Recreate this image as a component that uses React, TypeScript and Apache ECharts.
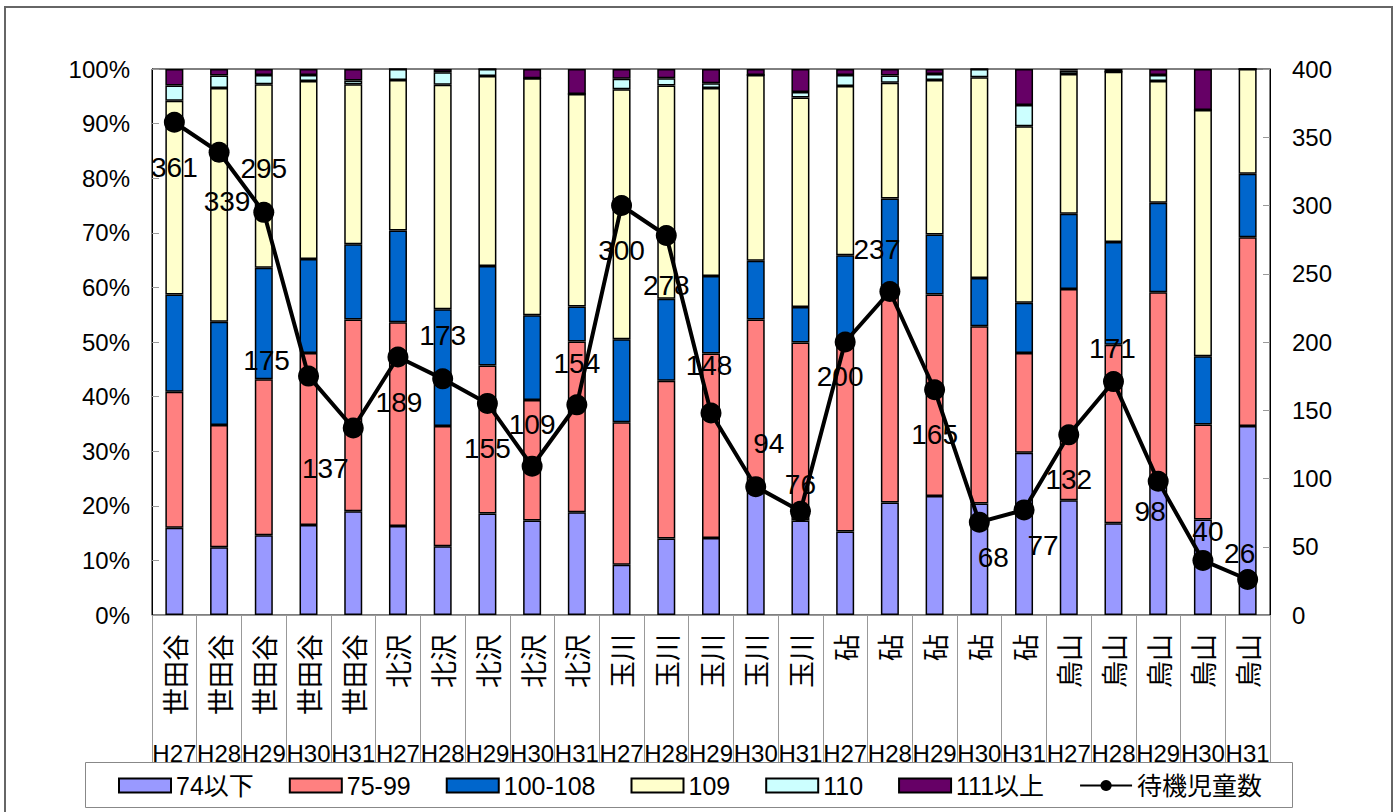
import React, { useEffect, useRef } from "react";
import * as echarts from "echarts";

const regions = [
  "世田谷", "世田谷", "世田谷", "世田谷", "世田谷",
  "北沢", "北沢", "北沢", "北沢", "北沢",
  "玉川", "玉川", "玉川", "玉川", "玉川",
  "砧", "砧", "砧", "砧", "砧",
  "烏山", "烏山", "烏山", "烏山", "烏山",
];
const years = [
  "H27", "H28", "H29", "H30", "H31",
  "H27", "H28", "H29", "H30", "H31",
  "H27", "H28", "H29", "H30", "H31",
  "H27", "H28", "H29", "H30", "H31",
  "H27", "H28", "H29", "H30", "H31",
];

const seriesNames = ["74以下", "75-99", "100-108", "109", "110", "111以上"];
const lineName = "待機児童数";

// percentage shares per category
const s74 = [16.0, 12.4, 14.6, 16.5, 19.0, 16.3, 12.6, 18.6, 17.3, 18.8, 9.2, 14.0, 14.1, 23.3, 17.3, 15.3, 20.6, 21.8, 20.4, 29.7, 21.0, 16.8, 24.3, 17.5, 34.6];
const s75 = [24.9, 22.4, 28.6, 31.5, 35.1, 37.3, 22.0, 27.1, 22.1, 31.3, 26.1, 28.9, 33.8, 30.8, 32.6, 34.8, 39.6, 36.9, 32.5, 18.3, 38.7, 32.7, 34.8, 17.4, 34.6];
const s100 = [17.8, 18.9, 20.4, 17.2, 13.8, 16.8, 21.4, 18.2, 15.5, 6.4, 15.2, 15.0, 14.2, 10.8, 6.5, 15.8, 16.1, 11.0, 8.8, 9.2, 13.8, 18.8, 16.4, 12.5, 11.6];
const s109 = [35.5, 42.8, 33.6, 32.6, 29.3, 27.6, 41.1, 34.8, 43.4, 38.9, 45.8, 39.1, 34.4, 34.0, 38.4, 31.0, 21.2, 28.3, 36.8, 32.3, 25.6, 31.2, 22.3, 45.1, 19.2];
const s110 = [2.8, 2.3, 1.7, 1.1, 0.7, 2.0, 2.3, 1.3, 0, 0, 1.9, 1.3, 0.9, 0, 1.0, 2.0, 1.3, 1.1, 1.5, 3.9, 0.6, 0, 1.1, 0, 0];
const s111 = [3.0, 1.2, 1.1, 1.1, 2.1, 0, 0.6, 0, 1.7, 4.6, 1.8, 1.7, 2.6, 1.1, 4.2, 1.1, 1.2, 0.9, 0, 6.6, 0.3, 0.5, 1.1, 7.5, 0];

const waiting = [361, 339, 295, 175, 137, 189, 173, 155, 109, 154, 300, 278, 148, 94, 76, 200, 237, 165, 68, 77, 132, 171, 98, 40, 26];

const leftTicks = { min: 0, max: 100, interval: 10 };
const rightTicks = { min: 0, max: 400, interval: 50 };

// label offsets for the line's data labels (dx, dy from point)
const labelOffsets: [number, number][] = [
  [0, 45], [8, 49], [0, -44], [-42, -16], [-28, 41],
  [1, 45], [0, -43], [0, 45], [0, -42], [0, -41],
  [0, 45], [0, 50], [-2, -47], [13, -43], [0, -27],
  [-5, 34], [-13, -42], [0, 45], [14, 35], [19, 36],
  [0, 45], [-1, -33], [-8, 30], [5, -29], [-8, -26],
];

const colors = ["#9999FF", "#FF8080", "#0066CC", "#FFFFCC", "#CCFFFF", "#660066"];
const FONT = "'Liberation Sans', Arial, 'Noto Sans CJK JP', sans-serif";
const CJK = "'Noto Sans CJK JP', sans-serif";

export default function App() {
  const ref = useRef<HTMLDivElement>(null);
  useEffect(() => {
    document.body.style.margin = "0";
    if (!ref.current) return;
    const chart = echarts.init(ref.current, null, { renderer: "svg" });
    const barData = [s74, s75, s100, s109, s110, s111];
    const bars = barData.map((d, i) => ({
      name: seriesNames[i],
      type: "bar",
      stack: "total",
      xAxisIndex: 0,
      yAxisIndex: 0,
      barWidth: 18,
      data: d,
      itemStyle: { color: colors[i], borderColor: "#000", borderWidth: 1.5 },
      z: 2,
    }));
    const option: any = {
      animation: false,
      textStyle: { fontFamily: FONT },
      graphic: [
        {
          type: "rect",
          shape: { x: 5, y: 7, width: 1387, height: 812 },
          style: { fill: "none", stroke: "#666", lineWidth: 2 },
          z: -10,
          silent: true,
        },
        {
          type: "rect",
          shape: { x: 85.5, y: 762.5, width: 1207, height: 45 },
          style: { fill: "#fff", stroke: "#888", lineWidth: 1 },
          z: -5,
          silent: true,
        },
      ],
      grid: {
        left: 152,
        right: 129,
        top: 69,
        bottom: 197,
        show: true,
        borderColor: "#000",
        borderWidth: 1,
        backgroundColor: "transparent",
      },
      legend: {
        left: 118,
        top: 773,
        padding: 0,
        itemWidth: 52,
        itemHeight: 14,
        itemGap: 35,
        textStyle: { fontSize: 25, color: "#000", fontFamily: FONT },
        data: [
          ...seriesNames.map((n) => ({ name: n, icon: "rect" })),
          { name: lineName },
        ],
      },
      xAxis: [
        {
          type: "category",
          data: regions,
          position: "bottom",
          axisLine: { lineStyle: { color: "#999", width: 1 } },
          axisTick: { show: true, length: 147, lineStyle: { color: "#999" } },
          axisLabel: {
            interval: 0,
            rotate: 90,
            margin: 19,
            fontSize: 27,
            color: "#000",
            fontFamily: CJK,
          },
        },
        {
          type: "category",
          data: years,
          position: "bottom",
          axisLine: { show: false },
          axisTick: { show: false },
          axisLabel: {
            interval: 0,
            margin: 126,
            fontSize: 24,
            color: "#000",
            fontFamily: FONT,
          },
        },
      ],
      yAxis: [
        {
          type: "value",
          min: leftTicks.min,
          max: leftTicks.max,
          interval: leftTicks.interval,
          position: "left",
          axisLine: { show: true, lineStyle: { color: "#000" } },
          axisTick: { show: true, inside: true, length: 7, lineStyle: { color: "#999" } },
          splitLine: { show: false },
          axisLabel: {
            formatter: "{value}%",
            fontSize: 24,
            color: "#000",
            margin: 22,
            fontFamily: FONT,
          },
        },
        {
          type: "value",
          min: rightTicks.min,
          max: rightTicks.max,
          interval: rightTicks.interval,
          position: "right",
          axisLine: { show: true, lineStyle: { color: "#000" } },
          axisTick: { show: true, inside: true, length: 7, lineStyle: { color: "#999" } },
          splitLine: { show: false },
          axisLabel: { fontSize: 24, color: "#000", margin: 22, fontFamily: FONT },
        },
      ],
      series: [
        ...bars,
        {
          name: lineName,
          type: "line",
          xAxisIndex: 0,
          yAxisIndex: 1,
          data: waiting.map((v, i) => ({
            value: v,
            label: { offset: labelOffsets[i] },
          })),
          symbol: "circle",
          symbolSize: 21,
          lineStyle: { color: "#000", width: 4 },
          itemStyle: { color: "#000" },
          z: 5,
          label: {
            show: true,
            position: "inside",
            fontSize: 28,
            color: "#000",
            fontFamily: FONT,
          },
        },
      ],
    };
    chart.setOption(option);
    return () => chart.dispose();
  }, []);
  return <div ref={ref} style={{ width: 1399, height: 812 }} />;
}
